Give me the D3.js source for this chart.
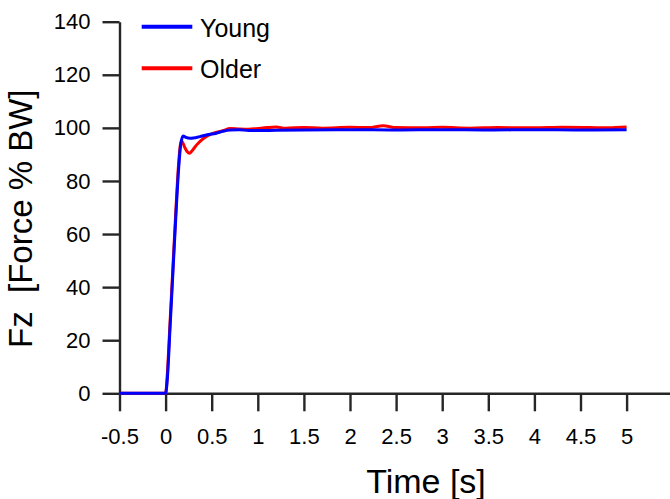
<!DOCTYPE html>
<html>
<head>
<meta charset="utf-8">
<script src="https://cdn.jsdelivr.net/npm/d3@7"></script>
<style>
    body { margin: 0; background: #fff; }
    svg { display: block; font-family: "Liberation Sans", Arial, sans-serif; }
</style>
</head>
<body>
<div id="chart"></div>
<script>
// time [s] and Fz [% BW]
const youngTime = [-0.5, 0, 0.005, 0.02, 0.05, 0.08, 0.11, 0.14, 0.165, 0.19, 0.22, 0.265, 0.3, 0.37, 0.45,
    0.55, 0.62, 0.7, 0.8, 0.9, 1.0, 1.2, 1.5, 2.0, 2.5, 3.0, 3.5, 4.0, 4.5, 5.0];
const youngForce = [0, 0, 0.6, 6, 26, 46, 66, 84, 94, 96.9, 96.4, 96.1, 96.2, 96.7, 97.4,
    98.0, 98.7, 99.2, 99.3, 99.0, 99.0, 99.1, 99.2, 99.3, 99.2, 99.3, 99.2, 99.3, 99.2, 99.3];

const olderTime = [-0.5, 0, 0.005, 0.02, 0.05, 0.08, 0.11, 0.14, 0.16, 0.175, 0.21, 0.235, 0.257, 0.29, 0.337, 0.41,
    0.52, 0.62, 0.7, 0.8, 0.9, 1.0, 1.1, 1.2, 1.3, 1.5, 1.7, 2.0, 2.2, 2.36, 2.5, 2.8, 3.0, 3.3,
    3.6, 4.0, 4.3, 4.6, 4.8, 5.0];
const olderForce = [0, 0, 0.8, 8, 28, 48, 68, 86, 93.5, 95, 92.5, 91, 90.4, 91.5, 93.6, 96,
    98, 98.9, 99.8, 99.6, 99.5, 99.8, 100.1, 100.3, 99.9, 100.1, 99.9, 100.2, 100.1, 100.8, 100.1, 100.0, 100.2, 99.9,
    100.1, 100.0, 100.2, 100.1, 100.0, 100.3];

const xTicks = [-0.5, 0, 0.5, 1, 1.5, 2, 2.5, 3, 3.5, 4, 4.5, 5];
const yTicks = [0, 20, 40, 60, 80, 100, 120, 140];

const seriesNames = ["Young", "Older"];
const seriesColors = ["#0000ff", "#ff0000"];

const width = 670;
const height = 499;

const x = d3.scaleLinear().domain([-0.5, 5.5]).range([119.5, 672.7]);
const y = d3.scaleLinear().domain([0, 140]).range([393.3, 21.7]);

const svg = d3.select("#chart")
    .append("svg")
    .attr("width", width)
    .attr("height", height);

const fmt = d => String(d);

// x axis
const xAxis = svg.append("g")
    .attr("transform", `translate(0, ${y(0)})`)
    .call(d3.axisBottom(x).tickValues(xTicks).tickFormat(fmt)
        .tickSize(18).tickSizeOuter(0).tickPadding(17));

// y axis
const yAxis = svg.append("g")
    .attr("transform", `translate(${x(-0.5)}, 0)`)
    .call(d3.axisLeft(y).tickValues(yTicks).tickFormat(fmt)
        .tickSize(17).tickSizeOuter(0).tickPadding(12));

[xAxis, yAxis].forEach(ax => {
    ax.select(".domain").attr("stroke", "#262626").attr("stroke-width", 2.4);
    ax.selectAll(".tick line").attr("stroke", "#262626").attr("stroke-width", 2.4);
    ax.selectAll(".tick text")
        .attr("fill", "#000")
        .style("font-size", "22px")
        .style("font-family", "'Liberation Sans', Arial, sans-serif");
});

// data lines
const line = d3.line()
    .x(d => x(d[0]))
    .y(d => y(d[1]))
    .curve(d3.curveMonotoneX);

const olderData = olderTime.map((t, i) => [t, olderForce[i]]);
const youngData = youngTime.map((t, i) => [t, youngForce[i]]);

svg.append("path")
    .datum(olderData)
    .attr("fill", "none")
    .attr("stroke", seriesColors[1])
    .attr("stroke-width", 3)
    .attr("stroke-linejoin", "round")
    .attr("d", line);

svg.append("path")
    .datum(youngData)
    .attr("fill", "none")
    .attr("stroke", seriesColors[0])
    .attr("stroke-width", 3)
    .attr("stroke-linejoin", "round")
    .attr("d", line);

// legend
const legend = svg.append("g").attr("transform", "translate(141.7, 26.7)");
seriesNames.forEach((name, i) => {
    const g = legend.append("g").attr("transform", `translate(0, ${i * 41.6})`);
    g.append("line")
        .attr("x1", 0).attr("x2", 50.6)
        .attr("y1", 0).attr("y2", 0)
        .attr("stroke", seriesColors[i])
        .attr("stroke-width", 4);
    g.append("text")
        .attr("x", 58.3)
        .attr("y", 9.8)
        .style("font-size", "25px")
        .attr("fill", "#000")
        .text(name);
});

// axis titles
svg.append("text")
    .attr("x", 426)
    .attr("y", 493)
    .attr("text-anchor", "middle")
    .style("font-size", "34px")
    .attr("fill", "#000")
    .text("Time [s]");

svg.append("text")
    .attr("transform", "translate(31.7, 348) rotate(-90)")
    .attr("text-anchor", "start")
    .style("font-size", "33px")
    .style("white-space", "pre")
    .attr("fill", "#000")
    .text("Fz  [Force % BW]");
</script>
</body>
</html>
